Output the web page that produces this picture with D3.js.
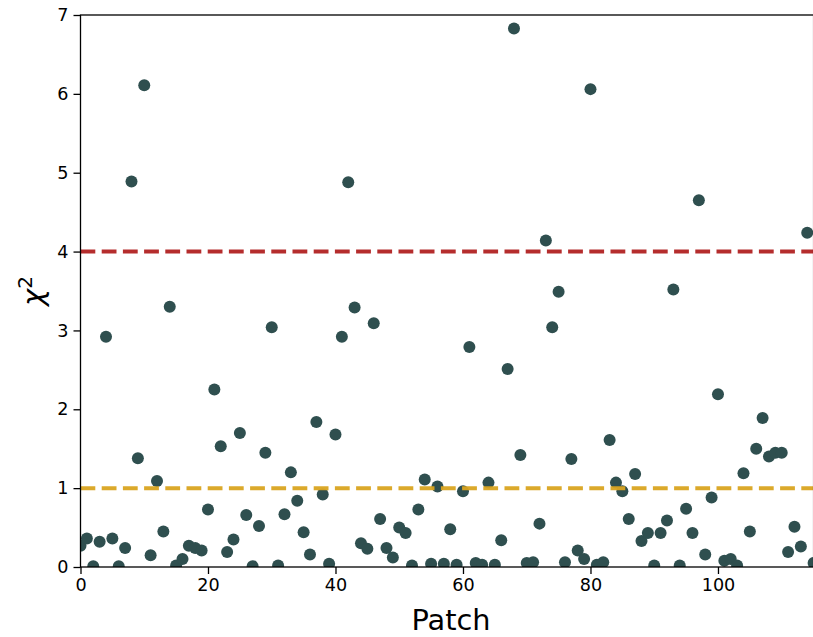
<!DOCTYPE html>
<html>
<head>
<meta charset="utf-8">
<script src="https://cdn.jsdelivr.net/npm/d3@7"></script>
<style>
  body { margin: 0; background: #fff; }
  svg { display: block; font-family: "DejaVu Sans", sans-serif; }
</style>
</head>
<body>
<svg id="chart" width="813" height="637"></svg>
<script>
// chi-square per patch
const chi2 = [
  0.27, 0.36, 0.01, 0.32, 2.92, 0.36, 0.01, 0.24, 4.89, 1.38,
  6.11, 0.15, 1.09, 0.45, 3.30, 0.02, 0.10, 0.27, 0.24, 0.21,
  0.73, 2.25, 1.53, 0.19, 0.35, 1.70, 0.66, 0.01, 0.52, 1.45,
  3.04, 0.02, 0.67, 1.20, 0.84, 0.44, 0.16, 1.84, 0.92, 0.04,
  1.68, 2.92, 4.88, 3.29, 0.30, 0.23, 3.09, 0.61, 0.24, 0.12,
  0.50, 0.43, 0.02, 0.73, 1.11, 0.04, 1.02, 0.04, 0.48, 0.03,
  0.96, 2.79, 0.05, 0.03, 1.07, 0.03, 0.34, 2.51, 6.83, 1.42,
  0.05, 0.06, 0.55, 4.14, 3.04, 3.49, 0.06, 1.37, 0.21, 0.10,
  6.06, 0.03, 0.06, 1.61, 1.07, 0.96, 0.61, 1.18, 0.33, 0.43,
  0.02, 0.43, 0.59, 3.52, 0.02, 0.74, 0.43, 4.65, 0.16, 0.88,
  2.19, 0.08, 0.10, 0.02, 1.19, 0.45, 1.50, 1.89, 1.40, 1.45,
  1.45, 0.19, 0.51, 0.26, 4.24, 0.05
];
const patches = chi2.map((_, i) => i);
const thresholds = [
  { value: 4, color: "#b22222" },
  { value: 1, color: "#daa520" }
];
const xTicks = [0, 20, 40, 60, 80, 100];
const yTicks = [0, 1, 2, 3, 4, 5, 6, 7];

const svg = d3.select("#chart");
const plotL = 80.5, plotR = 813.6, plotT = 15, plotB = 567;

const x = d3.scaleLinear().domain([0, 115]).range([plotL, plotR]);
const y = d3.scaleLinear().domain([0, 7]).range([plotB, plotT]);

svg.append("defs").append("clipPath").attr("id", "plot-clip")
  .append("rect")
  .attr("x", plotL).attr("y", plotT)
  .attr("width", plotR - plotL).attr("height", plotB - plotT);

const plot = svg.append("g").attr("clip-path", "url(#plot-clip)");

plot.selectAll("circle")
  .data(patches)
  .enter()
  .append("circle")
  .attr("cx", d => x(d))
  .attr("cy", d => y(chi2[d]))
  .attr("r", 6)
  .attr("fill", "#2f4f4f");

plot.selectAll(".thresh")
  .data(thresholds)
  .enter()
  .append("line")
  .attr("class", "thresh")
  .attr("x1", plotL).attr("x2", plotR)
  .attr("y1", d => y(d.value)).attr("y2", d => y(d.value))
  .attr("stroke", d => d.color)
  .attr("stroke-width", 4)
  .attr("stroke-dasharray", "14.8 6.4")
  .attr("opacity", 0.95);

// axes
const xAxis = d3.axisBottom(x).tickValues(xTicks).tickFormat(d3.format("d")).tickSize(7).tickPadding(5);
const yAxis = d3.axisLeft(y).tickValues(yTicks).tickFormat(d3.format("d")).tickSize(7).tickPadding(5);

const gx = svg.append("g").attr("transform", `translate(0,${plotB})`).call(xAxis);
const gy = svg.append("g").attr("transform", `translate(${plotL},0)`).call(yAxis);

[gx, gy].forEach(g => {
  g.select(".domain").remove();
  g.selectAll(".tick line").attr("stroke", "#000").attr("stroke-width", 1.3);
  g.selectAll(".tick text")
    .attr("fill", "#000")
    .style("font-family", "DejaVu Sans")
    .style("font-size", "17.6px");
});

// spines
svg.append("rect")
  .attr("x", plotL).attr("y", plotT)
  .attr("width", plotR - plotL).attr("height", plotB - plotT)
  .attr("fill", "none").attr("stroke", "#000").attr("stroke-width", 1.3);

// labels
svg.append("text")
  .attr("x", 451)
  .attr("y", 630)
  .attr("text-anchor", "middle")
  .style("font-size", "28.8px")
  .text("Patch");

const yl = svg.append("text")
  .attr("transform", `translate(43,${(plotT + plotB) / 2}) rotate(-90)`)
  .attr("text-anchor", "middle")
  .style("font-size", "28.8px");
yl.append("tspan").style("font-style", "italic").text("χ");
yl.append("tspan").attr("dy", -11).style("font-size", "20px").text("2");
</script>
</body>
</html>
